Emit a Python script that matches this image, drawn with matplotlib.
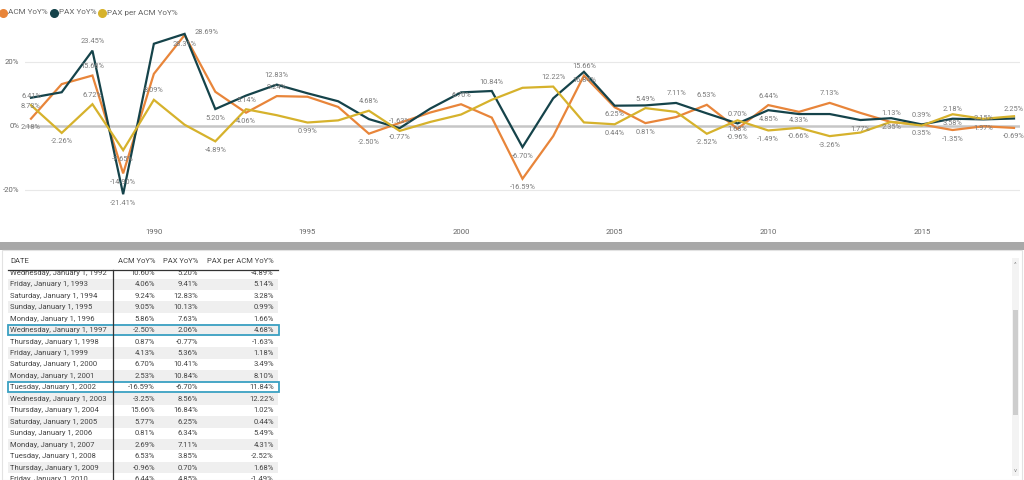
"""
Power BI style YoY% line chart with the detail table underneath.
Saves out.png (1024x480).
"""

import matplotlib

matplotlib.use("Agg")
import matplotlib.pyplot as plt
import pandas as pd
from matplotlib.patches import Rectangle

years = list(range(1986, 2019))
acm_yoy = [2.18, 13.00, 15.68, -14.90, 16.20, 28.31, 10.60, 4.06, 9.24, 9.05, 5.86,
           -2.50, 0.87, 4.13, 6.70, 2.53, -16.59, -3.25, 15.66, 5.77, 0.81, 2.69,
           6.53, -0.96, 6.44, 4.33, 7.13, 4.00, 1.13, 0.35, -1.35, -0.18, -0.69]
pax_yoy = [8.73, 10.45, 23.45, -21.41, 25.60, 28.69, 5.20, 9.41, 12.83, 10.13, 7.63,
           2.06, -0.77, 5.36, 10.41, 10.84, -6.70, 8.56, 16.84, 6.25, 6.34, 7.11,
           3.85, 0.70, 4.85, 3.64, 3.64, 1.77, 2.35, 0.39, 2.18, 1.97, 2.25]
pax_per_acm_yoy = [6.41, -2.26, 6.72, -7.65, 8.09, 0.30, -4.89, 5.14, 3.28, 0.99, 1.66,
                   4.68, -1.63, 1.18, 3.49, 8.10, 11.84, 12.22, 1.02, 0.44, 5.49, 4.31,
                   -2.52, 1.68, -1.49, -0.66, -3.26, -2.14, 1.21, 0.04, 3.58, 2.15, 2.96]

series_names = ["ACM YoY%", "PAX YoY%", "PAX per ACM YoY%"]
table_years = list(range(1992, 2011))
highlight_years = [1997, 2002]

# data label placement per series: a = above, b = below, r = right of point
acm_labels = {1986: "b", 1988: "a", 1989: "b", 1991: "b", 1993: "b", 1994: "a",
              1997: "b", 2000: "a", 2002: "b", 2004: "a", 2006: "b", 2008: "a",
              2009: "b", 2010: "a", 2011: "b", 2012: "a", 2014: "a", 2015: "b",
              2016: "b", 2018: "b"}
pax_labels = {1986: "b", 1988: "a", 1989: "b", 1991: "r", 1992: "b", 1994: "a",
              1998: "b", 2001: "a", 2002: "b", 2004: "b", 2005: "b", 2007: "a",
              2009: "a", 2010: "b", 2013: "b", 2014: "b", 2015: "a", 2016: "a",
              2017: "b", 2018: "a"}
per_labels = {1986: "a", 1987: "b", 1988: "a", 1989: "b", 1990: "a", 1992: "b",
              1993: "a", 1995: "b", 1997: "a", 1998: "a", 2003: "a", 2005: "b",
              2006: "a", 2008: "b", 2009: "b", 2010: "b", 2011: "b", 2012: "b",
              2016: "b", 2017: "c"}

colors = ["#E8853A", "#15434A", "#D6B22C"]
label_color = "#7a7a7a"
table_text = "#444444"

plt.rcParams["font.family"] = ["Roboto", "DejaVu Sans"]

W, H = 1024, 480
fig = plt.figure(figsize=(W / 100, H / 100), dpi=100)
fig.patch.set_facecolor("white")


def px_rect(left, top, right, bottom):
    return [left / W, 1 - bottom / H, (right - left) / W, (bottom - top) / H]


# ---- line chart ----
ax = fig.add_axes(px_rect(25, 22, 1020, 218))
all_series = [acm_yoy, pax_yoy, pax_per_acm_yoy]
all_labels = [acm_labels, pax_labels, per_labels]

for vals, col in zip(all_series, colors):
    ax.plot(years, vals, color=col, lw=1.6, solid_joinstyle="miter", zorder=3)

offsets = {"a": (0, 9), "b": (0, -9), "r": (22, 1), "c": (0, 0)}
for vals, labs in zip(all_series, all_labels):
    for yr, pos in labs.items():
        v = vals[years.index(yr)]
        ax.annotate(f"{v:.2f}%", (yr, v), xytext=offsets[pos], textcoords="offset pixels",
                    ha="center", va="center", fontsize=5.3, color=label_color,
                    zorder=4, annotation_clip=False)

ax.set_xlim(1985.805, 2018.195)
ax.set_ylim(-28.84, 32.4)
ax.set_xticks([1990, 1995, 2000, 2005, 2010, 2015])
ax.set_yticks([-20, 0, 20])
ax.set_yticklabels(["-20%", "0%", "20%"])
ax.tick_params(length=0, labelsize=5.6, labelcolor="#666666")
ax.tick_params(axis="x", pad=8)
ax.tick_params(axis="y", pad=4)
ax.axhline(20, color="#e8e8e8", lw=0.8, zorder=1)
ax.axhline(-20, color="#e8e8e8", lw=0.8, zorder=1)
ax.axhline(0, color="#c6c6c6", lw=1.8, zorder=2)
for spine in ax.spines.values():
    spine.set_visible(False)

# ---- overlay in pixel coordinates: legend and table ----
ov = fig.add_axes([0, 0, 1, 1], zorder=-1)
ov.set_xlim(0, W)
ov.set_ylim(H, 0)
ov.axis("off")

legend_x = [3, 54, 102]
for lx, name, col in zip(legend_x, series_names, colors):
    ov.plot([lx], [12.5], marker="o", ms=5.5, color=col, mec=col, clip_on=False)
    ov.text(lx + 5, 12.5, name, fontsize=5.9, color="#666666", va="center", ha="left")

# grey splitter and table panel
ov.add_patch(Rectangle((0, 242), W, 8, color="#a8a8a8", lw=0))
ov.add_patch(Rectangle((2, 250), W - 4, H - 250, facecolor="white", edgecolor="#e2e2e2", lw=0.8))

# scrollbar
ov.add_patch(Rectangle((1012, 258), 7, 218, color="#f3f3f3", lw=0))
ov.add_patch(Rectangle((1013, 310), 5, 105, color="#cdcdcd", lw=0))
ov.text(1015.5, 264, "^", fontsize=4.5, color="#888888", ha="center", va="center")
ov.text(1015.5, 471, "v", fontsize=4.5, color="#888888", ha="center", va="center")

col_date_x = 10
col_right = [155, 198, 274]
header_y = 261
row0_y = 272.8
row_h = 11.46
clip = Rectangle((0, 270.5), W, H - 270.5, transform=ov.transData, visible=False)
ov.add_patch(clip)

ov.text(col_date_x, header_y, "DATE", fontsize=5.5, color=table_text, va="center")
for cx, name in zip(col_right, series_names):
    ov.text(cx, header_y, name, fontsize=5.5, color=table_text, va="center", ha="right")

for i, yr in enumerate(table_years):
    yc = row0_y + i * row_h
    k = years.index(yr)
    if i % 2 == 1:
        band = Rectangle((8, yc - row_h / 2), 270, row_h, color="#efefef", lw=0, zorder=1)
        ov.add_patch(band)
        band.set_clip_path(clip)
    ts = pd.Timestamp(year=yr, month=1, day=1)
    date_txt = f"{ts:%A}, {ts:%B} {ts.day}, {ts.year}"
    t = ov.text(col_date_x, yc, date_txt, fontsize=5.5, color=table_text, va="center", zorder=3)
    t.set_clip_path(clip)
    for cx, vals in zip(col_right, all_series):
        t = ov.text(cx, yc, f"{vals[k]:.2f}%", fontsize=5.5, color=table_text,
                    va="center", ha="right", zorder=3)
        t.set_clip_path(clip)
    if yr in highlight_years:
        ov.add_patch(Rectangle((7.5, yc - row_h / 2 + 0.8), 271, row_h - 1.6, fill=False,
                               edgecolor="#3AA0C2", lw=1.3, zorder=4))

ov.plot([8, 278], [270, 270], color="#333333", lw=0.9, zorder=5)
ov.plot([113, 113], [270, H], color="#333333", lw=0.9, zorder=5)

fig.savefig("out.png", dpi=100, facecolor="white")
